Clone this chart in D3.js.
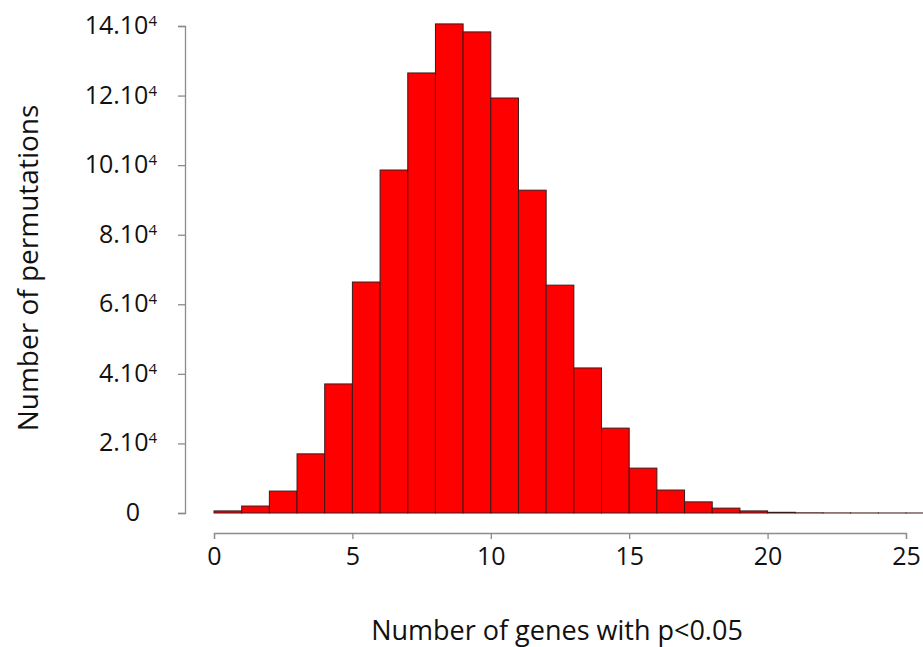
<!DOCTYPE html>
<html>
<head>
<meta charset="utf-8">
<script src="https://cdn.jsdelivr.net/npm/d3@7"></script>
<style>
  body { margin: 0; background: #fff; }
  svg { display: block; font-family: "Open Sans", sans-serif; }
</style>
</head>
<body>
<svg id="chart" width="923" height="647"></svg>
<script>
// histogram bins: left edge of each bin, width 1
const binStarts = [0,1,2,3,4,5,6,7,8,9,10,11,12,13,14,15,16,17,18,19,20,21,22,23,24,25];
// counts, in units of 10^4
const counts = [0.06,0.2,0.63,1.7,3.71,6.64,9.86,12.65,14.06,13.83,11.93,9.28,6.55,4.17,2.44,1.29,0.66,0.32,0.14,0.06,0.02,0.005,0.002,0.001,0.0005,0.0005];
const yTicks = [0, 2, 4, 6, 8, 10, 12, 14];
const xTicks = [0, 5, 10, 15, 20, 25];
const xTitle = "Number of genes with p<0.05";
const yTitle = "Number of permutations";

const svg = d3.select("#chart");

const x = d3.scaleLinear().domain([0, 25]).range([214, 906]);
const y = d3.scaleLinear().domain([0, 14]).range([513, 26]);

const data = binStarts.map((b, i) => ({ x0: b, x1: b + 1, v: counts[i] }));

svg.append("g")
  .selectAll("rect")
  .data(data)
  .enter()
  .append("rect")
  .attr("x", d => x(d.x0))
  .attr("y", d => y(d.v))
  .attr("width", d => x(d.x1) - x(d.x0))
  .attr("height", d => y(0) - y(d.v))
  .attr("fill", "#ff0000")
  .attr("stroke", "#3a1a1a")
  .attr("stroke-width", 1);

// y axis
const yAxis = svg.append("g")
  .attr("transform", "translate(185,0)")
  .call(d3.axisLeft(y).tickValues(yTicks).tickSize(7).tickSizeOuter(7).tickFormat(""))
  .attr("font-family", null);
yAxis.selectAll("path, line").attr("stroke", "#8c8c8c").attr("stroke-width", 1.3);

const yLab = yAxis.selectAll(".tick text")
  .attr("font-size", 25)
  .attr("fill", "#111")
  .attr("text-anchor", "end")
  .attr("x", d => d === 0 ? -45 : -28)
  .attr("dy", "0.3em");
yLab.each(function(d) {
  const t = d3.select(this);
  if (d === 0) { t.text("0"); return; }
  t.append("tspan").text(d + ".10");
  t.append("tspan").attr("font-size", 15).attr("dy", -8).text("4");
});

// x axis
const xAxis = svg.append("g")
  .attr("transform", "translate(0,533)")
  .call(d3.axisBottom(x).tickValues(xTicks).tickSize(6).tickSizeOuter(6))
  .attr("font-family", null);
xAxis.selectAll("path, line").attr("stroke", "#8c8c8c").attr("stroke-width", 1.3);
xAxis.selectAll(".tick text")
  .attr("font-size", 25)
  .attr("fill", "#111")
  .attr("y", 14)
  .attr("dy", "0.71em");

// titles
svg.append("text")
  .attr("x", 557)
  .attr("y", 640)
  .attr("text-anchor", "middle")
  .attr("font-size", 27)
  .attr("fill", "#111")
  .text(xTitle);

svg.append("text")
  .attr("transform", "translate(38,268) rotate(-90)")
  .attr("text-anchor", "middle")
  .attr("font-size", 28)
  .attr("fill", "#111")
  .text(yTitle);
</script>
</body>
</html>
